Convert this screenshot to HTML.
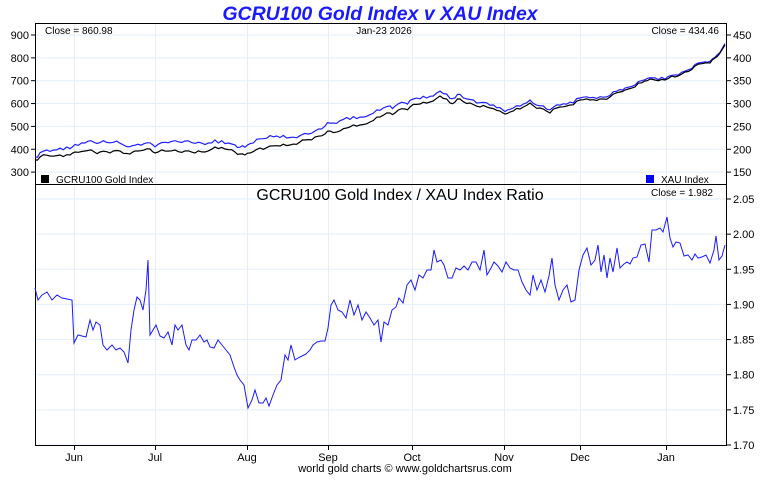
<!DOCTYPE html>
<html><head><style>
body{margin:0;background:#fff;}
svg text{font-family:"Liberation Sans",sans-serif;}
</style></head><body>
<svg width="760" height="475" xmlns="http://www.w3.org/2000/svg">
<rect width="760" height="475" fill="#fff"/>
<text x="380" y="20" text-anchor="middle" font-size="19.5" font-weight="bold" font-style="italic" fill="#1a1aff">GCRU100 Gold Index v XAU Index</text>
<g stroke="#e3eef8" stroke-width="1" id="grid"></g>
<rect x="35.5" y="23.5" width="691" height="422" fill="none" stroke="#000"/>
<line x1="35" y1="184.5" x2="727" y2="184.5" stroke="#000"/>
<g id="ticks" stroke="#000"></g>
<g id="lbl" font-size="11" fill="#000"></g>
<text x="45" y="34" font-size="10">Close = 860.98</text>
<text x="384" y="34" font-size="10" text-anchor="middle">Jan-23  2026</text>
<text x="719" y="34" font-size="10" text-anchor="end">Close = 434.46</text>
<rect x="41" y="175" width="8" height="8" fill="#000"/>
<text x="56" y="183" font-size="10">GCRU100 Gold Index</text>
<rect x="646" y="175" width="8" height="8" fill="#00f"/>
<text x="661" y="183" font-size="10">XAU Index</text>
<text x="400" y="200" font-size="16" text-anchor="middle">GCRU100 Gold Index  /  XAU Index Ratio</text>
<text x="713" y="196" font-size="10" text-anchor="end">Close = 1.982</text>
<polyline id="blue" fill="none" stroke="#2020ff" stroke-width="1.2"/>
<polyline id="black" fill="none" stroke="#000" stroke-width="1.2"/>
<polyline id="ratio" fill="none" stroke="#1a1aff" stroke-width="1"/>
<text x="405" y="472" font-size="11" text-anchor="middle">world gold charts © www.goldchartsrus.com</text>
</svg>
<script>
const NS="http://www.w3.org/2000/svg";
function el(p,t,a,txt){const e=document.createElementNS(NS,t);for(const k in a)e.setAttribute(k,a[k]);if(txt)e.textContent=txt;p.appendChild(e);}
const g=document.getElementById('grid'),tk=document.getElementById('ticks'),lb=document.getElementById('lbl');
const months=[["Jun",74],["Jul",155],["Aug",247],["Sep",328],["Oct",412],["Nov",504],["Dec",580],["Jan",666]];
months.forEach(([m,x])=>{el(g,'line',{x1:x+.5,y1:24,x2:x+.5,y2:445});el(tk,'line',{x1:x+.5,y1:446,x2:x+.5,y2:450});el(lb,'text',{x:x,y:461,'text-anchor':'middle'},m);});
for(let i=0;i<7;i++){const v=900-i*100,y=35+i*22.85;el(g,'line',{x1:36,y1:y,x2:726,y2:y});el(tk,'line',{x1:31,y1:y,x2:35,y2:y});el(lb,'text',{x:29,y:y+4,'text-anchor':'end'},v);
el(tk,'line',{x1:727,y1:y,x2:731,y2:y});el(lb,'text',{x:733,y:y+4},450-i*50);}
for(let i=0;i<8;i++){const y=199+i*35.14;el(g,'line',{x1:36,y1:y,x2:726,y2:y});el(tk,'line',{x1:727,y1:y,x2:731,y2:y});el(lb,'text',{x:733,y:y+4},(2.05-i*0.05).toFixed(2));}
const blk=[[35,160],[40,157],[50,156],[60,155],[70,155],[75,152],[85,151],[100,152],[110,153],[120,151],[130,154],[135,151],[150,149],[155,153],[165,151],[175,150],[185,151],[195,153],[205,152],[215,147],[225,149],[235,152],[240,154],[245,155],[250,153],[260,148],[270,146],[280,146],[290,145],[300,142],[305,140],[315,137],[325,134],[330,131],[340,131],[350,127],[360,125],[370,122],[380,117],[390,113],[395,113],[405,109],[410,107],[420,104],[430,102],[440,96],[450,103],[455,102],[460,99],[470,103],[480,107],[490,108],[500,111],[505,114],[510,112],[520,109],[530,103],[540,108],[550,113],[560,107],[570,105],[580,100],[590,100],[600,99],[610,97],[620,92],[625,90],[635,87],[645,81],[650,79],[655,80],[665,80],[675,77],[685,72],[695,66],[705,63],[710,63],[715,58],[720,53],[725,45]];
// densify with small jitter
const dense=[];
for(let i=0;i<blk.length-1;i++){const [x0,y0]=blk[i],[x1,y1]=blk[i+1];const n=Math.max(1,Math.round((x1-x0)/3));
for(let k=0;k<n;k++){const t=k/n,x=x0+(x1-x0)*t;let y=y0+(y1-y0)*t;if(k>0)y+=Math.sin(x*1.7)*1.2+Math.sin(x*0.53)*0.8;dense.push([x,y]);}}
dense.push(blk[blk.length-1]);
function off(x){if(x<70)return 3+5*(x-35)/35;if(x<350)return 8+2*Math.sin(x/13);if(x<500)return 8-5*(x-350)/150;return 3-2*(x-500)/225;}
document.getElementById('black').setAttribute('points',dense.map(p=>p[0].toFixed(1)+','+p[1].toFixed(1)).join(' '));
document.getElementById('blue').setAttribute('points',dense.map(p=>p[0].toFixed(1)+','+(p[1]-off(p[0])+Math.sin(p[0]*0.9)*0.6).toFixed(1)).join(' '));
const r=[[35,288],[38,300],[42,295],[47,292],[52,300],[57,295],[62,298],[67,299],[72,300],[74,343],[78,335],[82,336],[86,337],[90,320],[93,330],[96,322],[100,325],[103,345],[107,350],[112,345],[116,350],[120,348],[124,352],[128,363],[131,330],[134,310],[137,297],[140,300],[143,310],[146,290],[148,260],[150,335],[153,330],[156,325],[160,336],[164,338],[168,332],[172,345],[175,325],[178,330],[182,325],[186,345],[189,350],[192,340],[196,340],[200,335],[204,342],[207,340],[210,347],[214,348],[218,340],[222,345],[226,350],[230,355],[234,367],[237,375],[240,380],[244,385],[248,408],[252,400],[255,390],[259,403],[263,403],[266,398],[269,406],[273,395],[277,385],[281,380],[285,355],[288,360],[291,345],[295,360],[298,358],[302,356],[306,354],[310,350],[313,345],[317,342],[321,341],[325,341],[328,328],[331,305],[334,300],[338,310],[342,312],[346,318],[350,300],[354,315],[358,305],[362,320],[366,312],[370,318],[374,325],[378,320],[381,342],[384,322],[388,325],[392,310],[396,307],[399,298],[403,303],[407,285],[411,280],[415,290],[419,275],[423,278],[427,270],[431,270],[434,250],[437,262],[441,260],[444,265],[448,278],[452,278],[456,268],[460,270],[464,266],[468,270],[472,262],[476,262],[480,270],[484,250],[487,275],[491,268],[494,262],[498,266],[502,272],[506,262],[510,268],[514,270],[518,270],[522,282],[526,290],[530,295],[533,275],[537,290],[541,280],[545,292],[549,276],[552,258],[555,285],[559,300],[563,290],[567,285],[571,302],[575,300],[579,270],[583,255],[587,248],[591,265],[595,260],[598,245],[601,272],[604,255],[607,278],[610,258],[613,272],[617,248],[620,268],[624,264],[627,262],[630,264],[633,258],[637,257],[641,245],[645,244],[649,262],[652,230],[656,230],[660,228],[663,232],[667,217],[670,238],[673,247],[676,242],[680,243],[684,256],[688,255],[692,260],[695,254],[698,258],[702,257],[706,255],[710,263],[714,250],[716,236],[719,260],[722,256],[725,245]];
document.getElementById('ratio').setAttribute('points',r.map(p=>p.join(',')).join(' '));
</script>
</body></html>
